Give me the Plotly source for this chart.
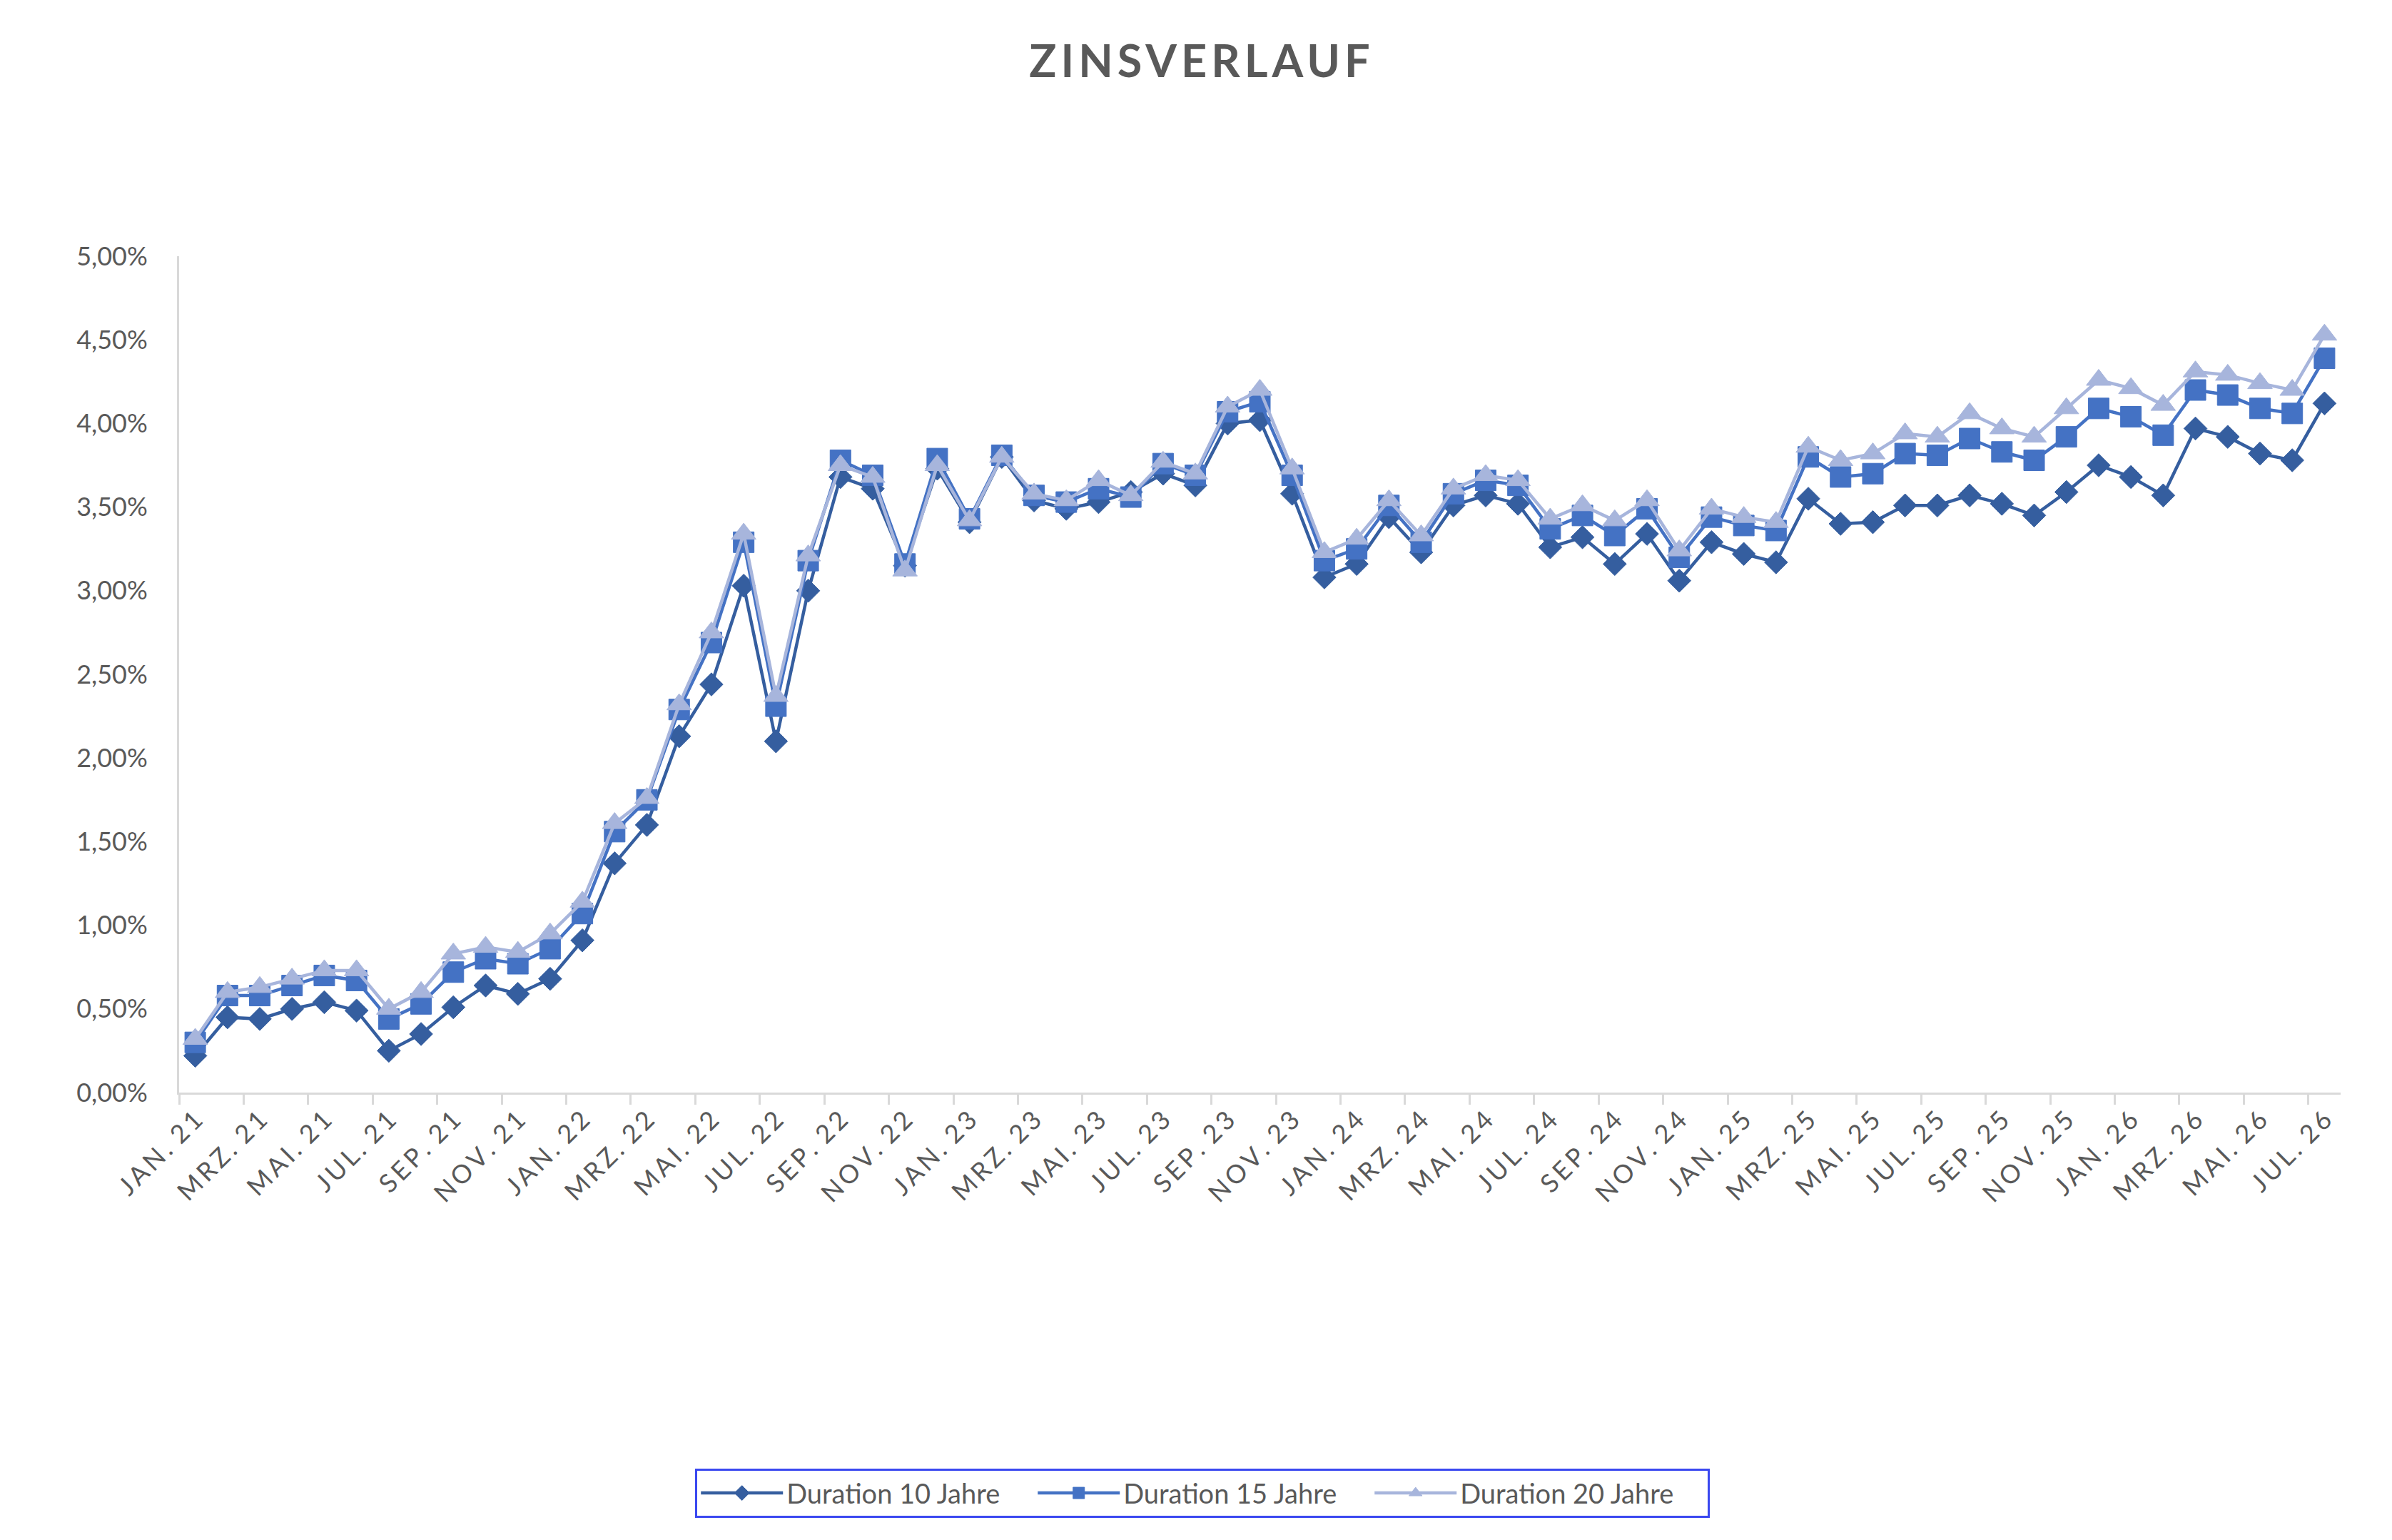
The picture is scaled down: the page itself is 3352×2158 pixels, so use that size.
import plotly.graph_objects as go

# monthly interest rates in percent, Jan 2021 .. Jul 2026
month_names = ["JAN.", "FEB.", "MRZ.", "APR.", "MAI.", "JUN.",
               "JUL.", "AUG.", "SEP.", "OKT.", "NOV.", "DEZ."]
years = [21, 22, 23, 24, 25, 26]
num_months = 67

duration_10 = [0.22, 0.45, 0.44, 0.50, 0.54, 0.49, 0.25, 0.35, 0.51, 0.64, 0.59, 0.68,
               0.91, 1.37, 1.60, 2.13, 2.44, 3.03, 2.10, 3.00, 3.68, 3.61, 3.15, 3.73,
               3.41, 3.80, 3.54, 3.49, 3.53, 3.59, 3.70, 3.63, 4.00, 4.02, 3.58, 3.08,
               3.16, 3.44, 3.23, 3.51, 3.57, 3.52, 3.26, 3.32, 3.16, 3.34, 3.06, 3.29,
               3.22, 3.17, 3.55, 3.40, 3.41, 3.51, 3.51, 3.57, 3.52, 3.45, 3.59, 3.75,
               3.68, 3.57, 3.97, 3.92, 3.82, 3.78, 4.12]
duration_15 = [0.30, 0.58, 0.58, 0.64, 0.70, 0.67, 0.44, 0.53, 0.72, 0.80, 0.77, 0.86,
               1.07, 1.56, 1.75, 2.29, 2.69, 3.29, 2.31, 3.18, 3.78, 3.69, 3.16, 3.79,
               3.43, 3.81, 3.57, 3.53, 3.61, 3.56, 3.76, 3.69, 4.07, 4.13, 3.69, 3.18,
               3.25, 3.51, 3.29, 3.58, 3.66, 3.63, 3.37, 3.45, 3.33, 3.49, 3.20, 3.44,
               3.39, 3.36, 3.80, 3.68, 3.70, 3.82, 3.81, 3.91, 3.83, 3.78, 3.92, 4.09,
               4.04, 3.93, 4.20, 4.17, 4.09, 4.06, 4.39]
duration_20 = [0.32, 0.60, 0.63, 0.68, 0.73, 0.73, 0.50, 0.60, 0.83, 0.87, 0.84, 0.95,
               1.14, 1.61, 1.76, 2.32, 2.75, 3.34, 2.37, 3.21, 3.75, 3.68, 3.12, 3.75,
               3.42, 3.80, 3.58, 3.54, 3.66, 3.57, 3.77, 3.70, 4.10, 4.20, 3.73, 3.23,
               3.31, 3.54, 3.33, 3.61, 3.69, 3.66, 3.43, 3.51, 3.42, 3.54, 3.24, 3.49,
               3.44, 3.41, 3.86, 3.78, 3.82, 3.94, 3.92, 4.06, 3.97, 3.92, 4.09, 4.26,
               4.21, 4.11, 4.31, 4.29, 4.24, 4.20, 4.53]

# letter spaced month labels like the excel chart
thin = "\u2009"
labels = []
for y in years:
    for m in month_names:
        labels.append(thin.join(m) + thin + " " + thin.join(str(y)))
labels = labels[:num_months]

series = [
    ("Duration 10 Jahre", duration_10, "#355E9F", "diamond", 25),
    ("Duration 15 Jahre", duration_15, "#4472C4", "square", 29),
    ("Duration 20 Jahre", duration_20, "#A7B5DC", "triangle-up", 30),
]

grey = "#595959"
fig = go.Figure()
for name, vals, color, symbol, size in series:
    fig.add_trace(
        go.Scatter(
            x=labels,
            y=[v / 100 for v in vals],
            name=name,
            mode="lines+markers",
            line=dict(color=color, width=4.5),
            marker=dict(symbol=symbol, size=size, color=color,
                        line=dict(color=color, width=1)),
        )
    )

fig.update_layout(
    width=3352,
    height=2158,
    paper_bgcolor="white",
    plot_bgcolor="white",
    separators=",.",
    font=dict(family="Lato, 'Open Sans', sans-serif", color=grey, size=34),
    title=dict(text="<span style='letter-spacing:6px'><b>ZINSVERLAUF</b></span>",
               x=0.5, xanchor="center", y=0.964, yanchor="middle",
               font=dict(size=63, color=grey)),
    margin=dict(l=243, r=80, t=351, b=635),
    showlegend=True,
    legend=dict(orientation="h", x=0.4735, xanchor="center", y=-0.479, yanchor="middle",
                bordercolor="#3A48F0", borderwidth=3, bgcolor="white",
                font=dict(size=38, color=grey), itemwidth=115, entrywidth=342),
)
fig.update_xaxes(
    type="category",
    range=[-0.5, num_months - 0.5],
    tickmode="linear", tick0=0, dtick=2,
    tickson="boundaries",
    tickangle=-45,
    ticks="outside", ticklen=14, tickwidth=3, tickcolor="#D9D9D9",
    showline=True, linecolor="#D9D9D9", linewidth=3,
    showgrid=False, zeroline=False,
    tickfont=dict(size=36, color=grey),
)
fig.update_yaxes(
    range=[0, 0.05],
    tickmode="linear", tick0=0, dtick=0.005,
    tickformat=".2%",
    showline=True, linecolor="#D9D9D9", linewidth=3,
    showgrid=False, zeroline=False, ticks="",
    ticklabelstandoff=34,
    tickfont=dict(size=36, color=grey),
)

fig.write_html("out.html")
